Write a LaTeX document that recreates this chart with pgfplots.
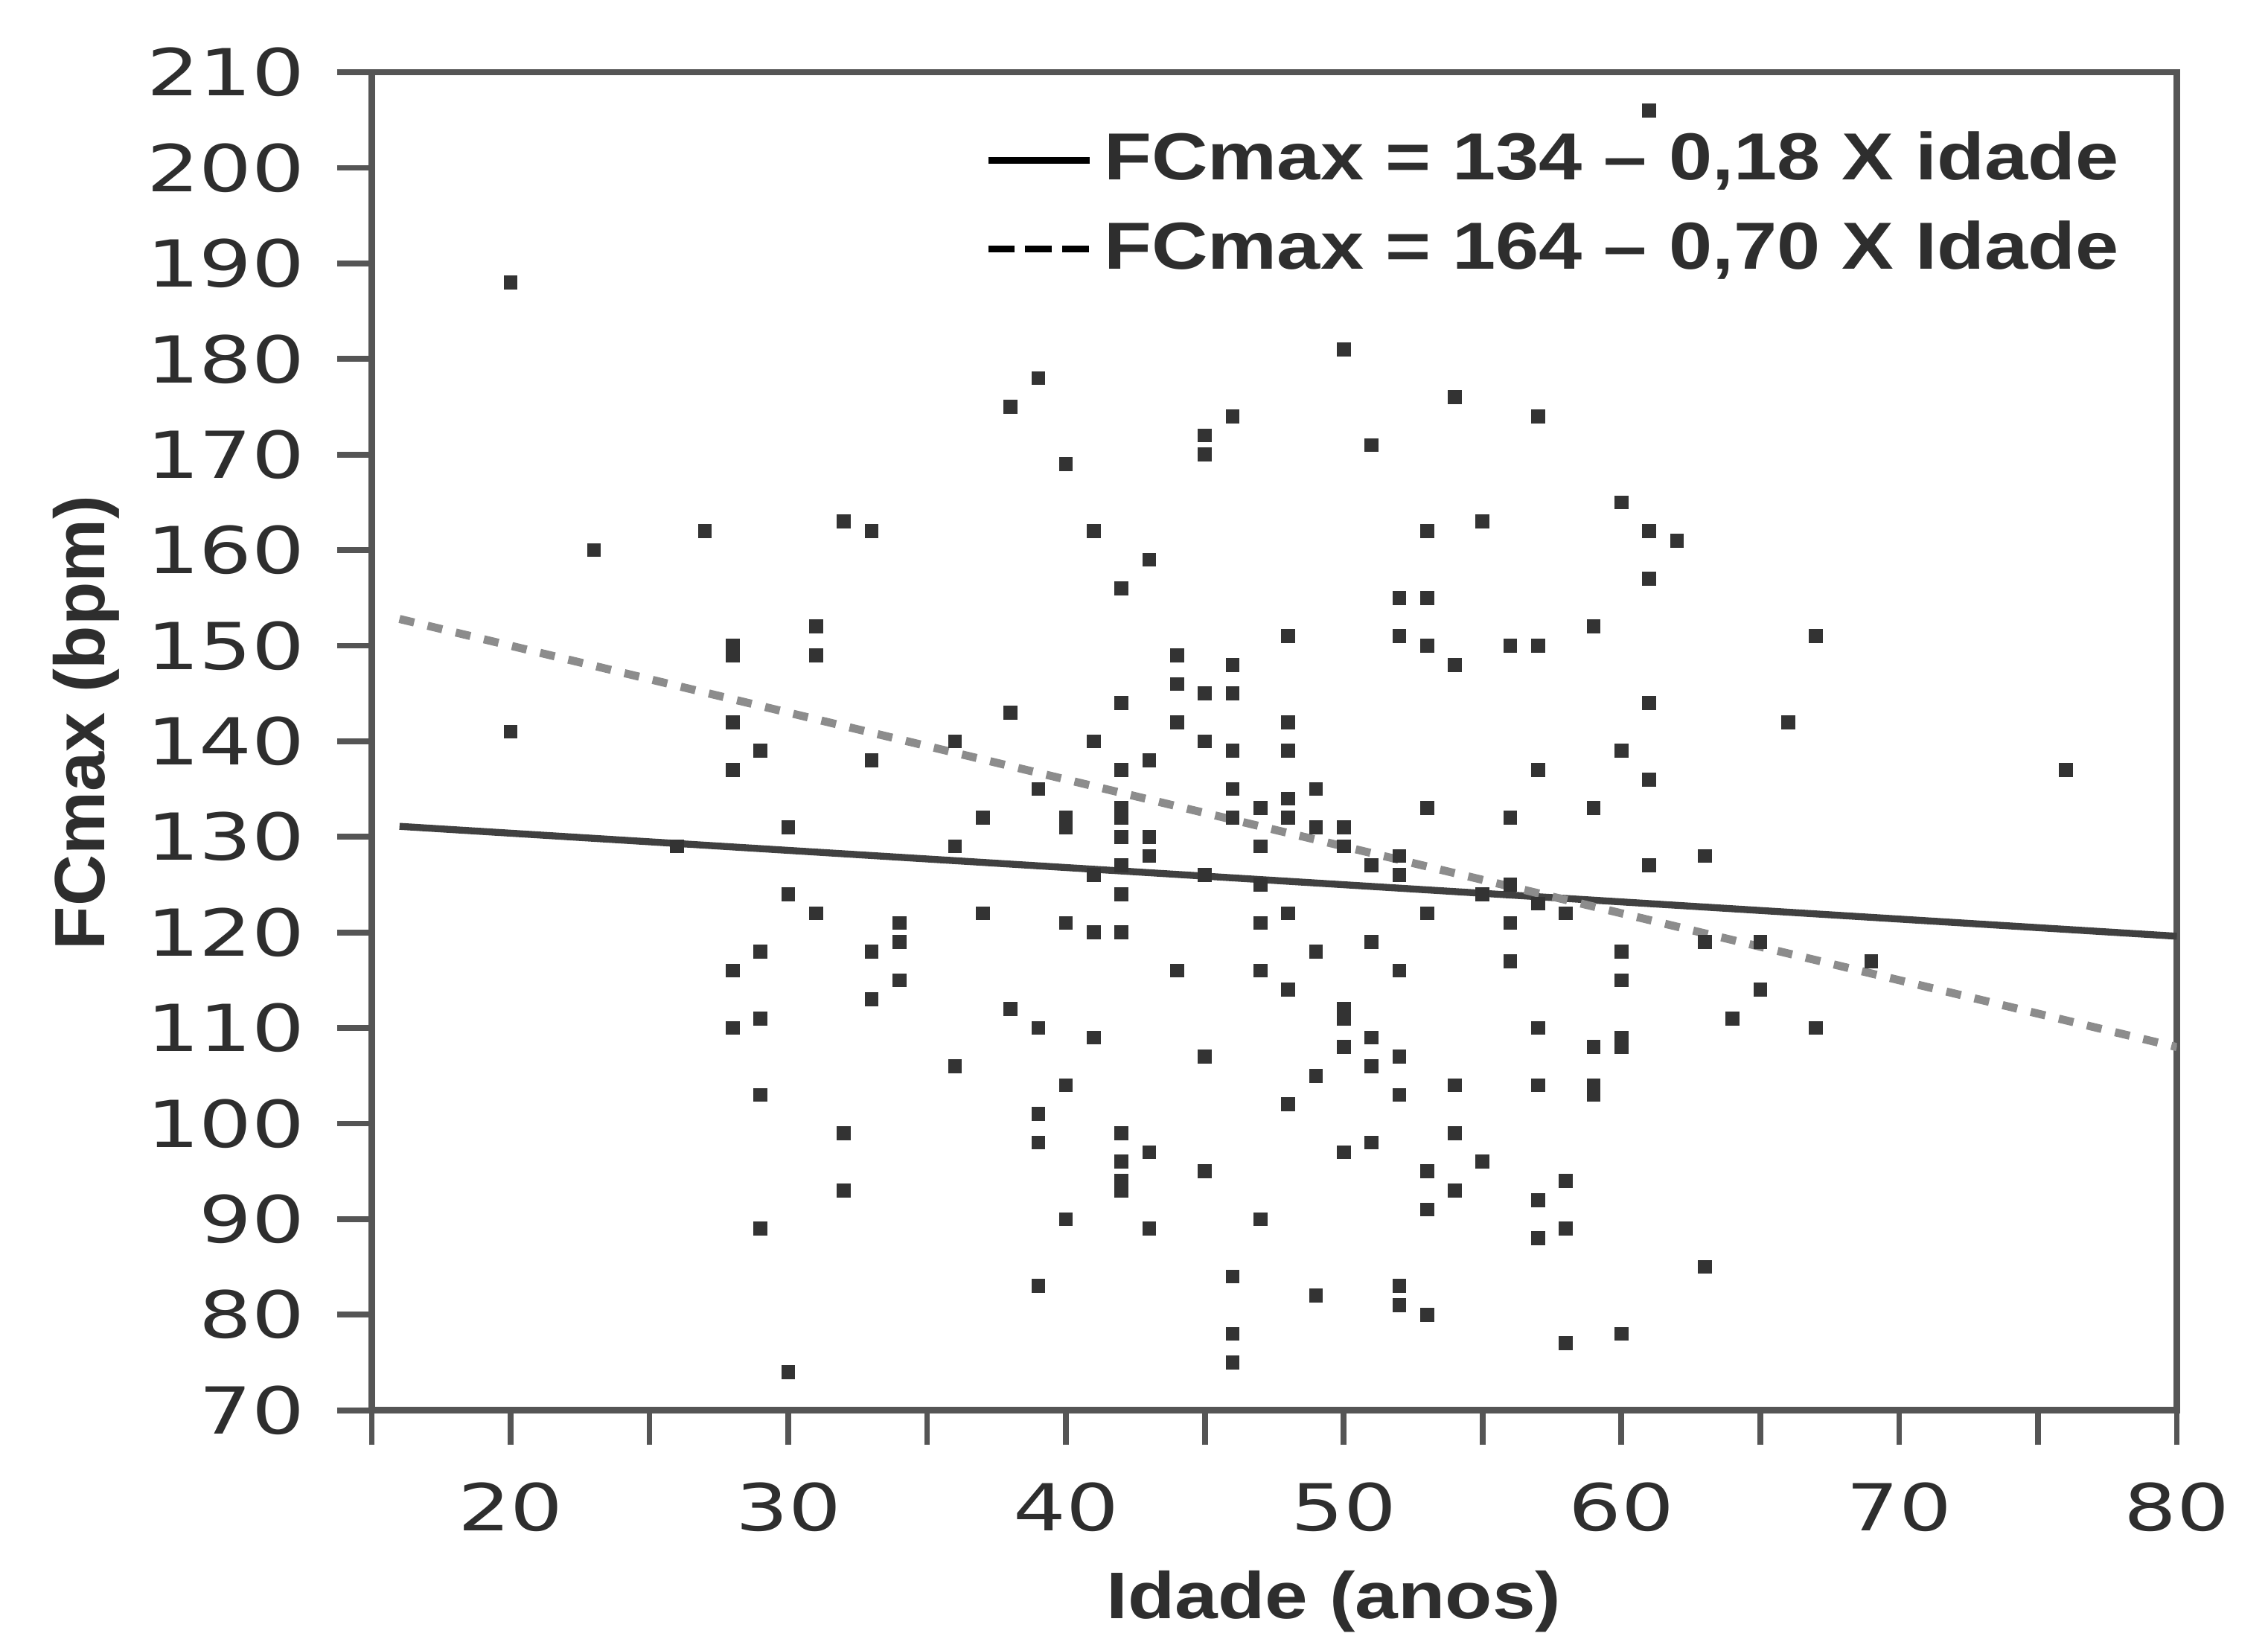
\documentclass[border=0pt]{standalone}
\usepackage{pgfplots}
\pgfplotsset{compat=1.18}
\usepackage{pgfplotstable}
\usepackage{fontspec}
\setmainfont[FakeStretch=1.28]{DejaVu Sans}
\newfontfamily\lab[FakeStretch=1.17]{Liberation Sans}
\newfontfamily\labr{Liberation Sans}
\definecolor{axisgray}{HTML}{555555}
\definecolor{dotgray}{HTML}{333333}
\definecolor{txtgray}{HTML}{2E2E2E}

% idade, FCmax
\pgfplotstableread{
x y
20 188
20 141
23 160
26 129
27 162
28 150
28 149
28 142
28 137
29 139
28 116
28 110
29 118
29 111
29 103
29 89
30 131
30 124
30 74
31 122
31 152
31 149
32 163
32 99
32 93
33 162
33 138
33 118
33 113
34 121
34 119
34 115
36 140
36 129
36 106
37 132
37 122
38 175
38 143
38 112
39 178
39 135
39 110
39 101
39 98
39 83
40 169
40 132
40 131
40 121
40 104
40 90
41 162
41 140
41 126
41 120
41 109
42 156
42 144
42 137
42 133
42 132
42 130
42 127
42 124
42 120
42 99
42 96
42 94
42 93
43 159
43 138
43 130
43 128
43 97
43 89
44 149
44 146
44 142
44 116
45 172
45 170
45 145
45 140
45 126
45 107
45 95
46 174
46 148
46 145
46 139
46 135
46 132
46 84
46 78
46 75
47 133
47 129
47 125
47 121
47 116
47 90
48 151
48 142
48 139
48 134
48 132
48 122
48 114
48 102
49 135
49 131
49 118
49 105
49 82
50 181
50 131
50 129
50 112
50 111
50 108
50 97
51 171
51 127
51 119
51 109
51 106
51 98
52 155
52 151
52 128
52 126
52 116
52 107
52 103
52 83
52 81
53 162
53 155
53 150
53 133
53 122
53 95
53 91
53 80
54 176
54 148
54 104
54 99
54 93
55 163
55 124
55 96
56 150
56 132
56 125
56 121
56 117
57 174
57 150
57 137
57 123
57 110
57 104
57 92
57 88
58 122
58 94
58 89
58 77
59 152
59 133
59 108
59 104
59 103
60 165
60 139
60 118
60 115
60 109
60 108
60 78
61 206
61 162
61 157
61 144
61 136
61 127
62 161
63 128
63 119
63 85
64 111
65 119
65 114
66 142
67 151
67 110
69 117
76 137
}\pontos

\begin{document}
\begin{tikzpicture}
\useasboundingbox (-64.25pt,-40pt) rectangle (327.75pt,243.75pt);
\begin{axis}[
    at={(0,0)}, anchor=south west,
    scale only axis,
    width=312pt, height=231.25pt,
    xmin=15, xmax=80, ymin=70, ymax=210,
    xtick={20,30,...,80},
    minor xtick={15,25,...,75},
    ytick={70,80,...,210},
    xtick pos=bottom, ytick pos=left,
    tick align=outside,
    major tick length=6pt, minor tick length=6pt,
    axis line style={axisgray, line width=1.1pt},
    every tick/.style={axisgray, line width=1pt},
    minor tick style={axisgray, line width=1pt},
    /pgf/number format/assume math mode=true,
    ticklabel style={font=\fontsize{11.2}{13}\selectfont, text=txtgray},
    xticklabel style={yshift=-3pt},
    yticklabel style={xshift=-2pt},
    xlabel={Idade (anos)},
    ylabel={FCmax (bpm)},
    xlabel style={font=\lab\bfseries\fontsize{11.4}{13}\selectfont, text=txtgray,
        at={(axis description cs:0.533,-0.143)}, anchor=center},
    ylabel style={font=\labr\bfseries\fontsize{12.3}{14}\selectfont, text=txtgray,
        at={(axis description cs:-0.158,0.514)}, anchor=center},
    legend style={at={(axis description cs:0.975,0.965)}, anchor=north east,
        draw=none, fill=none, inner sep=0pt, row sep=1.5pt,
        font=\lab\bfseries\fontsize{11.5}{14}\selectfont, text=txtgray},
    legend cell align=left,
    legend image code/.code={\draw[#1] (0pt,0pt) -- (17.5pt,0pt);},
]
\addlegendimage{black, line width=1.1pt}
\addlegendentry{FCmax = 134 – 0,18 X idade}
\addlegendimage{black, line width=1.1pt, dash pattern=on 4.6pt off 1.8pt}
\addlegendentry{FCmax = 164 – 0,70 X Idade}

\addplot[only marks, mark=square*, mark size=1pt, color=dotgray, forget plot]
    table[x=x, y=y] {\pontos};

% linhas de regressao
\addplot[color=black!75, line width=1.2pt, forget plot]
    coordinates {(16,131.1) (80,119.6)};
\addplot[color=black!45, line width=1.4pt, dash pattern=on 2.6pt off 2.4pt, forget plot]
    coordinates {(16,152.8) (80,108)};
\end{axis}
\end{tikzpicture}
\end{document}
